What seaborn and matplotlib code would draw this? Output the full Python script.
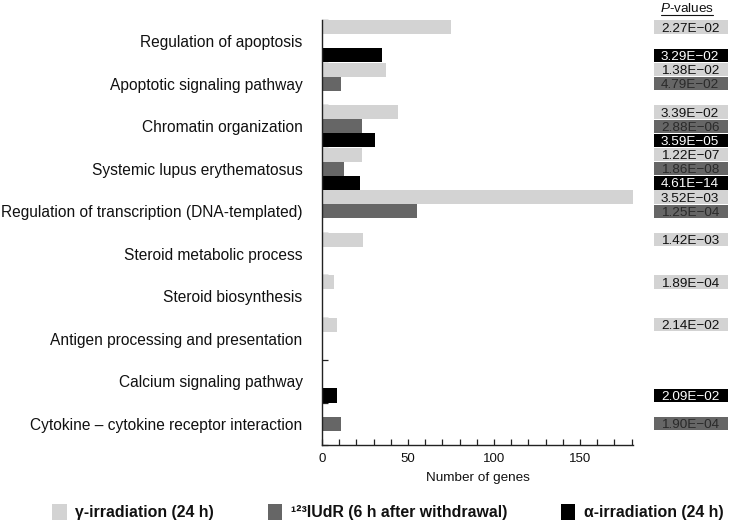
import numpy as np
import pandas as pd
import matplotlib
matplotlib.use("Agg")
import matplotlib.pyplot as plt
import matplotlib.transforms as mtransforms
from matplotlib.patches import Rectangle, Patch
from matplotlib.lines import Line2D
from matplotlib.ticker import MultipleLocator, FixedLocator
import seaborn as sns

# ---------------- data ----------------
categories = [
    "Regulation of apoptosis",
    "Apoptotic signaling pathway",
    "Chromatin organization",
    "Systemic lupus erythematosus",
    "Regulation of transcription (DNA-templated)",
    "Steroid metabolic process",
    "Steroid biosynthesis",
    "Antigen processing and presentation",
    "Calcium signaling pathway",
    "Cytokine \u2013 cytokine receptor interaction",
]
series = ["\u03b3-irradiation (24 h)",
          "\u00b9\u00b2\u00b3IUdR (6 h after withdrawal)",
          "\u03b1-irradiation (24 h)"]
gamma_genes = [75, 37, 44, 23, 181, 24, 7, 9, None, None]
iudr_genes = [None, 11, 23, 13, 55, None, None, None, None, 11]
alpha_genes = [35, None, 31, 22, None, None, None, None, 9, None]
gamma_p = ["2.27E\u221202", "1.38E\u221202", "3.39E\u221202", "1.22E\u221207", "3.52E\u221203",
           "1.42E\u221203", "1.89E\u221204", "2.14E\u221202", None, None]
iudr_p = [None, "4.79E\u221202", "2.88E\u221206", "1.86E\u221208", "1.25E\u221204",
          None, None, None, None, "1.90E\u221204"]
alpha_p = ["3.29E\u221202", None, "3.59E\u221205", "4.61E\u221214", None,
           None, None, None, "2.09E\u221202", None]
x_ticks = [0, 50, 100, 150]
x_label = "Number of genes"

colors = ["#d3d3d3", "#666666", "#000000"]
text_colors = ["#111111", "#2a2a2a", "#ffffff"]

rows = []
for s, vals, pv in zip(series, [gamma_genes, iudr_genes, alpha_genes],
                       [gamma_p, iudr_p, alpha_p]):
    for c, v, p in zip(categories, vals, pv):
        if v is not None:
            rows.append({"Category": c, "Series": s, "Genes": v, "P": p})
df = pd.DataFrame(rows)

# ---------------- figure ----------------
sns.set_theme(style="white")
plt.rcParams["font.family"] = ["Liberation Sans", "DejaVu Sans"]
plt.rcParams["mathtext.fontset"] = "custom"
plt.rcParams["mathtext.it"] = "Liberation Sans:italic"
plt.rcParams["mathtext.rm"] = "Liberation Sans"

W, H = 732, 523
fig = plt.figure(figsize=(W / 100, H / 100), dpi=100)
ax_left, ax_right, ax_top, ax_bot = 322, 633.3, 20, 445
ax = fig.add_axes([ax_left / W, 1 - ax_bot / H, (ax_right - ax_left) / W, (ax_bot - ax_top) / H])

sns.barplot(data=df, y="Category", x="Genes", hue="Series", order=categories,
            hue_order=series, palette=colors, orient="h", width=1.0, dodge=True,
            saturation=1, errorbar=None, legend=False, ax=ax, linewidth=0)

ax.set_xlim(0, 181)
ax.set_ylim(len(categories) - 0.5, -0.5)
ax.xaxis.set_major_locator(FixedLocator(x_ticks))
ax.xaxis.set_minor_locator(MultipleLocator(10))
ax.tick_params(axis="x", which="both", direction="in", length=4, width=0.9,
               color="#222222", labelsize=9.5, pad=6, bottom=True, labelcolor="#111111")
ax.set_xlabel(x_label, fontsize=9.7, labelpad=5, color="#111111")
ax.set_ylabel("")
ax.yaxis.set_minor_locator(FixedLocator(np.arange(-0.5, len(categories), 1.0)))
ax.tick_params(axis="y", which="major", length=0, labelsize=11.2, pad=14, labelcolor="#111111")
ax.tick_params(axis="y", which="minor", direction="in", length=4, width=0.9,
               color="#222222", left=True)
for sp in ["top", "right"]:
    ax.spines[sp].set_visible(False)
for sp in ["left", "bottom"]:
    ax.spines[sp].set_color("#222222")
    ax.spines[sp].set_linewidth(1.0)

# ---------------- P-value boxes ----------------
trans = mtransforms.blended_transform_factory(fig.transFigure, ax.transData)
slot = 1.0 / 3
box_x0, box_x1, txt_x = 654 / W, 728 / W, 661 / W
for k, pv in enumerate([gamma_p, iudr_p, alpha_p]):
    for i, p in enumerate(pv):
        if p is None:
            continue
        yc = i + (k - 1) * slot
        ax.add_patch(Rectangle((box_x0, yc - slot * 0.47), box_x1 - box_x0, slot * 0.94,
                               transform=trans, facecolor=colors[k], edgecolor="none",
                               clip_on=False))
        ax.text(txt_x, yc, p, transform=trans, ha="left", va="center_baseline",
                fontsize=9.7, color=text_colors[k], clip_on=False)

fig.text(687 / W, 1 - 8 / H, r"$\it{P}$-values", ha="center", va="center",
         fontsize=9.7, color="#111111")
fig.add_artist(Line2D([661 / W, 713 / W], [1 - 15 / H, 1 - 15 / H],
                      transform=fig.transFigure, color="#111111", linewidth=0.8))

# ---------------- legend ----------------
handles = [Patch(facecolor=c, edgecolor="none", label=s) for c, s in zip(colors, series)]
leg = fig.legend(handles=handles, loc="center", bbox_to_anchor=(388 / W, 1 - 512 / H),
                 ncol=3, frameon=False, handlelength=0.9, handleheight=1.2,
                 handletextpad=0.55, columnspacing=3.4,
                 prop={"family": ["Liberation Sans", "DejaVu Sans"], "weight": "bold", "size": 11.4})
for t in leg.get_texts():
    t.set_color("#111111")

fig.savefig("out.png", dpi=100)
